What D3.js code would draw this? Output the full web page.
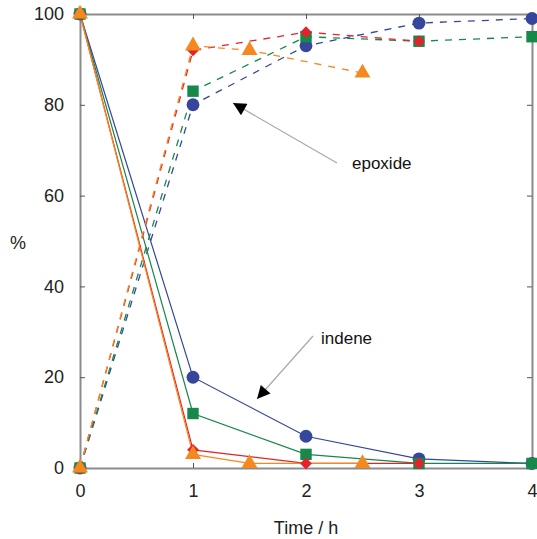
<!DOCTYPE html>
<html>
<head>
<meta charset="utf-8">
<script src="https://cdn.jsdelivr.net/npm/d3@7"></script>
<style>
  body { margin: 0; background: #fff; }
  text { font-family: "Liberation Sans", Arial, sans-serif; }
</style>
</head>
<body>
<div id="chart"></div>
<script>
(function() {
  "use strict";

  // 데이터: 시간(h) 과 % 값
  var xTicks = [0, 1, 2, 3, 4];
  var yTicks = [0, 20, 40, 60, 80, 100];

  var blueTime = [0, 1, 2, 3, 4];
  var blueIndene = [100, 20, 7, 2, 1];
  var blueEpoxide = [0, 80, 93, 98, 99];

  var greenTime = [0, 1, 2, 3, 4];
  var greenIndene = [100, 12, 3, 1, 1];
  var greenEpoxide = [0, 83, 95, 94, 95];

  var redTime = [0, 1, 2, 3];
  var redIndene = [100, 4, 1, 1];
  var redEpoxide = [0, 92, 96, 94];

  var orangeTime = [0, 1, 1.5, 2.5];
  var orangeIndene = [100, 3, 1, 1];
  var orangeEpoxide = [0, 93, 92, 87];

  var series = [
    { color: "#35469c", shape: "circle",   t: blueTime,   ind: blueIndene,   epo: blueEpoxide },
    { color: "#16884a", shape: "square",   t: greenTime,  ind: greenIndene,  epo: greenEpoxide },
    { color: "#e3232b", shape: "diamond",  t: redTime,    ind: redIndene,    epo: redEpoxide },
    { color: "#f5891f", shape: "triangle", t: orangeTime, ind: orangeIndene, epo: orangeEpoxide }
  ];

  var W = 537, H = 539;
  var m = { left: 80, right: 5, top: 14, bottom: 71 };

  var svg = d3.select("#chart").append("svg")
    .attr("width", W).attr("height", H);

  var x = d3.scaleLinear().domain([0, 4]).range([m.left, W - m.right]);
  var y = d3.scaleLinear().domain([0, 100]).range([H - m.bottom, m.top]);

  var axisColor = "#8c8c8c";
  var fmt = d3.format("d");

  // 축 (tick 안쪽)
  svg.append("g").attr("transform", "translate(0," + y(0) + ")")
    .call(d3.axisBottom(x).tickValues(xTicks).tickFormat(fmt).tickSizeInner(-5).tickSizeOuter(0).tickPadding(16))
    .call(function(g) { g.selectAll("text").attr("font-size", 18).attr("fill", "#222"); });
  svg.append("g").attr("transform", "translate(0," + y(100) + ")")
    .call(d3.axisTop(x).tickValues(xTicks).tickSizeInner(-5).tickSizeOuter(0).tickFormat(""));
  svg.append("g").attr("transform", "translate(" + x(0) + ",0)")
    .call(d3.axisLeft(y).tickValues(yTicks).tickFormat(fmt).tickSizeInner(-5).tickSizeOuter(0).tickPadding(16))
    .call(function(g) { g.selectAll("text").attr("font-size", 18).attr("fill", "#222"); });
  svg.append("g").attr("transform", "translate(" + x(4) + ",0)")
    .call(d3.axisRight(y).tickValues(yTicks).tickSizeInner(-5).tickSizeOuter(0).tickFormat(""));

  svg.selectAll(".domain").attr("stroke", axisColor).attr("stroke-width", 2);
  svg.selectAll(".tick line").attr("stroke", "#555");

  // 라인
  var line = d3.line().x(function(d) { return x(d[0]); }).y(function(d) { return y(d[1]); });

  series.forEach(function(s) {
    var ind = s.t.map(function(t, i) { return [t, s.ind[i]]; });
    var epo = s.t.map(function(t, i) { return [t, s.epo[i]]; });
    svg.append("path").datum(ind).attr("d", line)
      .attr("fill", "none").attr("stroke", s.color).attr("stroke-width", 1.2);
    svg.append("path").datum(epo).attr("d", line)
      .attr("fill", "none").attr("stroke", s.color).attr("stroke-width", 1.3)
      .attr("stroke-dasharray", "7,7");
  });

  // 마커
  var symbols = {
    circle: d3.symbol().type(d3.symbolCircle).size(130),
    square: d3.symbol().type(d3.symbolSquare).size(130),
    diamond: d3.symbol().type(d3.symbolSquare).size(70),
    triangle: d3.symbol().type(d3.symbolTriangle).size(110)
  };

  series.forEach(function(s) {
    var pts = [];
    s.t.forEach(function(t, i) {
      pts.push([t, s.ind[i]]);
      pts.push([t, s.epo[i]]);
    });
    svg.append("g").selectAll("path").data(pts).enter().append("path")
      .attr("d", symbols[s.shape])
      .attr("transform", function(d) {
        return "translate(" + x(d[0]) + "," + y(d[1]) + ")" + (s.shape === "diamond" ? " rotate(45)" : "");
      })
      .attr("fill", s.color);
  });

  // 주석 화살표
  var defs = svg.append("defs");
  defs.append("marker").attr("id", "arrowHead")
    .attr("viewBox", "0 0 10 10").attr("refX", 10).attr("refY", 5)
    .attr("markerWidth", 20).attr("markerHeight", 13).attr("markerUnits", "userSpaceOnUse")
    .attr("orient", "auto")
    .append("path").attr("d", "M0,0 L10,5 L0,10 Z").attr("fill", "#000");

  svg.append("line")
    .attr("x1", 337).attr("y1", 163).attr("x2", 233).attr("y2", 103)
    .attr("stroke", "#a8a8a8").attr("stroke-width", 1.2).attr("marker-end", "url(#arrowHead)");
  svg.append("text").attr("x", 352).attr("y", 169).attr("font-size", 17).attr("fill", "#111").text("epoxide");

  svg.append("line")
    .attr("x1", 313).attr("y1", 336).attr("x2", 257).attr("y2", 399)
    .attr("stroke", "#a8a8a8").attr("stroke-width", 1.2).attr("marker-end", "url(#arrowHead)");
  svg.append("text").attr("x", 321).attr("y", 344).attr("font-size", 17).attr("fill", "#111").text("indene");

  // 축 제목
  svg.append("text").attr("x", 306).attr("y", 534).attr("text-anchor", "middle")
    .attr("font-size", 18).attr("fill", "#222").text("Time / h");
  svg.append("text").attr("x", 18).attr("y", 249).attr("text-anchor", "middle")
    .attr("font-size", 18).attr("fill", "#222").text("%");
})();
</script>
</body>
</html>
